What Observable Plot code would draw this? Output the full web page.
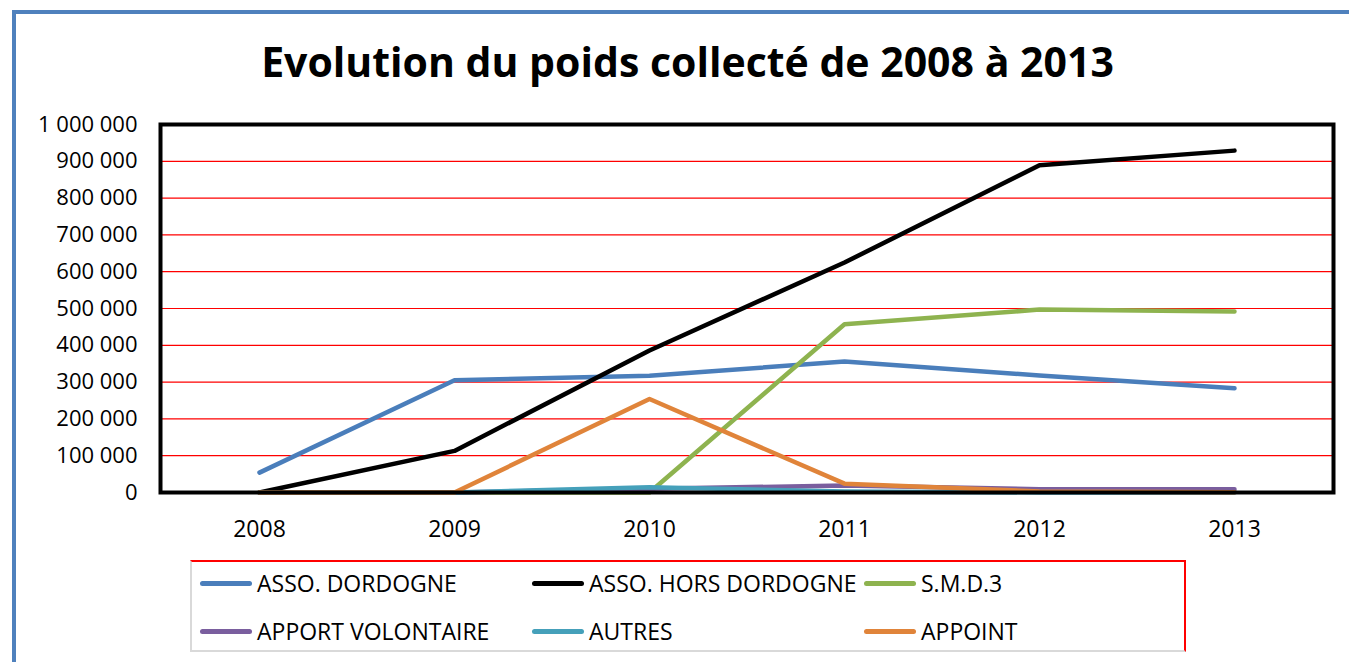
<!DOCTYPE html>
<html><head><meta charset="utf-8">
<script src="https://cdn.jsdelivr.net/npm/d3@7"></script>
<script src="https://cdn.jsdelivr.net/npm/@observablehq/plot@0.6"></script>
<style>
body{margin:0;background:#fff;font-family:"Open Sans",sans-serif;}
#page{position:relative;width:1349px;height:662px;overflow:hidden;background:#fff;}
#border{position:absolute;left:12px;top:10px;width:1400px;height:700px;border:4px solid #4F81BD;box-sizing:border-box;}
#title{position:absolute;left:215px;width:945px;top:36px;text-align:center;font-weight:bold;font-size:41px;line-height:50px;color:#000;white-space:nowrap;}
#chart{position:absolute;left:0;top:100px;}
#legend{position:absolute;left:190px;top:560px;width:996px;height:92px;box-sizing:border-box;border-top:2px solid #FF0000;border-right:2px solid #FF0000;border-left:2px solid #d9d9d9;border-bottom:2px solid #d9d9d9;}
.item{position:absolute;height:30px;display:flex;align-items:center;font-size:23px;white-space:nowrap;color:#000;}
.sw{width:52px;height:5px;border-radius:3px;margin-right:5px;}
</style></head>
<body><div id="page"><div id="border"></div><div id="title">Evolution du poids collecté de 2008 à 2013</div><div id="chart"></div><div id="legend"></div></div>
<script>
const years = ["2008","2009","2010","2011","2012","2013"];
const seriesNames = ["ASSO. DORDOGNE","ASSO. HORS DORDOGNE","S.M.D.3","APPORT VOLONTAIRE","AUTRES","APPOINT"];
const seriesColors = ["#4A7EBB","#000000","#8EB34F","#7A5E9E","#45A0BA","#E0843A"];
const assoDordogne     = [54000, 305000, 317000, 356000, 318000, 283000];
const assoHorsDordogne = [0, 113000, 386000, 625000, 889000, 929000];
const smd3             = [0, 0, 0, 457000, 497000, 492000];
const apportVolontaire = [0, 0, 10000, 19000, 9000, 9000];
const autres           = [0, 0, 14000, 3000, 0, 0];
const appoint          = [0, 0, 254000, 24000, 3000, 1000];
const yTicks = [0,100000,200000,300000,400000,500000,600000,700000,800000,900000,1000000];
const gridValues = [100000,200000,300000,400000,500000,600000,700000,800000,900000];

const seriesValues = [assoDordogne, assoHorsDordogne, smd3, apportVolontaire, autres, appoint];
const fmt = d3.formatLocale({thousands:"\u00a0", grouping:[3], decimal:",", currency:["",""]}).format(",");

const lineMarks = seriesValues.map((vals, k) =>
  Plot.line(years.map((y,i)=>({year:y, value:vals[i]})), {
    x:"year", y:"value", stroke: seriesColors[k], strokeWidth:4.5,
    strokeLinejoin:"round", strokeLinecap:"round"
  })
);

const chart = Plot.plot({
  width:1349, height:450,
  marginLeft:160, marginRight:16, marginTop:24, marginBottom:58,
  style:{fontSize:"22px", fontFamily:"Open Sans", color:"#000", background:"transparent", overflow:"visible"},
  x:{type:"point", domain:years, padding:0.5},
  y:{domain:[0,1000000]},
  marks:[
    Plot.ruleY(gridValues, {stroke:"#FF0000", strokeWidth:1.2}),
    Plot.axisX({label:null, tickSize:0, tickPadding:28, fontSize:23}),
    Plot.axisY({ticks:yTicks, tickFormat:fmt, label:null, tickSize:0, tickPadding:23, fontSize:22}),
    ...lineMarks,
    Plot.frame({stroke:"#000", strokeWidth:4})
  ]
});
document.getElementById("chart").appendChild(chart);

const legendPos = [[8,6],[340,6],[672,6],[8,54],[340,54],[672,54]];
const legend = document.getElementById("legend");
seriesNames.forEach((n,k)=>{
  const d = document.createElement("div");
  d.className="item";
  d.style.left = legendPos[k][0]+"px";
  d.style.top = legendPos[k][1]+"px";
  const sw = document.createElement("div");
  sw.className="sw"; sw.style.background = seriesColors[k];
  d.appendChild(sw);
  d.appendChild(document.createTextNode(n));
  legend.appendChild(d);
});
</script></body></html>
